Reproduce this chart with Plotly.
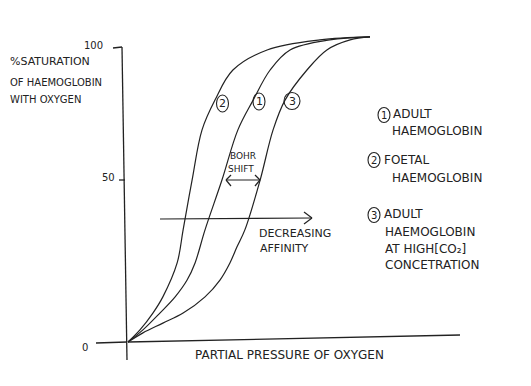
import plotly.graph_objects as go

# ---- data (x = partial pressure of O2 in arbitrary units, y = % saturation)
foetal_x = [0, 3.6, 7.5, 10.5, 14.8, 16.6, 19.3, 22.3, 26.2, 31.6, 41.9, 57.8, 72.9]
foetal_y = [0, 4.1, 9.8, 15.3, 26.8, 38.0, 54.9, 71.9, 82.0, 92.2, 99.0, 102.4, 103.4]

adult_x = [0, 4.5, 9.6, 14.2, 17.8, 20.2, 23.2, 28.3, 33.1, 37.7, 42.8, 48.8, 60.8, 72.9]
adult_y = [0, 4.1, 9.8, 15.3, 21.0, 26.8, 38.0, 54.9, 71.9, 82.0, 92.2, 99.0, 102.4, 103.4]

co2_x = [0, 4.5, 10.5, 16.6, 23.2, 27.7, 30.7, 32.8, 35.2, 39.8, 43.7, 47.3, 53.9, 59.9, 66.9, 72.9]
co2_y = [0, 3.1, 6.4, 9.8, 15.3, 21.0, 26.8, 32.2, 38.0, 54.9, 71.9, 82.0, 92.2, 99.0, 102.4, 103.4]

y_tick_labels = ["0", "50", "100"]

INK = "#222222"
FONT = "DejaVu Sans"
PAGE_W, PAGE_H = 531, 386
M = 8  # default body margin of the html page
W, H = PAGE_W - 2 * M, PAGE_H - 2 * M


def X(px):  # page pixel -> data x
    return (px - 128) / 3.32


def Y(py):  # page pixel -> data y
    return (342 - py) / 2.95


fig = go.Figure()
for xs, ys in [(foetal_x, foetal_y), (adult_x, adult_y), (co2_x, co2_y)]:
    fig.add_trace(go.Scatter(x=xs, y=ys, mode="lines",
                             line=dict(color=INK, width=1.2, shape="spline", smoothing=1.0),
                             hoverinfo="skip", showlegend=False))

shapes = []


def seg(x0, y0, x1, y1, w=1.3):
    shapes.append(dict(type="line", xref="x", yref="y", x0=X(x0), y0=Y(y0), x1=X(x1), y1=Y(y1),
                       line=dict(color=INK, width=w)))


# axes (hand drawn)
seg(122, 47, 127, 360)
seg(128, 342, 460, 335)
# ticks
seg(113, 48, 122, 47)
seg(119, 180, 125, 180)
seg(96, 343, 127, 342)

# Bohr shift double arrow
seg(226, 180, 260, 180, 1.2)
seg(226, 180, 231, 175, 1.2); seg(226, 180, 231, 186, 1.2)
seg(260, 180, 255, 175, 1.2); seg(260, 180, 255, 186, 1.2)

# decreasing affinity arrow
seg(160, 219, 312, 218, 1.2)
seg(312, 218, 304, 212, 1.2); seg(312, 218, 304, 224, 1.2)


def circ(cx, cy, w, h):
    shapes.append(dict(type="circle", xref="x", yref="y", x0=X(cx - w / 2), x1=X(cx + w / 2),
                       y0=Y(cy + h / 2), y1=Y(cy - h / 2), line=dict(color=INK, width=1.1)))


ann = []


def txt(s, px, py, size=12, anchor="left"):
    ann.append(dict(x=X(px), y=Y(py), xref="x", yref="y", text=s, showarrow=False, xanchor=anchor,
                    yanchor="middle", font=dict(family=FONT, size=size, color=INK)))


# curve labels
for n, cx, cy, w in [("2", 222.5, 103.5, 12), ("1", 259, 101.5, 12), ("3", 292, 101, 16)]:
    circ(cx, cy, w, 17)
    txt(n, cx, cy, 11, "center")

# legend
circ(384, 115, 12, 15); txt("1", 384, 115, 10, "center")
txt("ADULT", 391, 114); txt("HAEMOGLOBIN", 390, 131)
circ(374, 160, 12, 15); txt("2", 374, 160, 10, "center")
txt("FOETAL", 382, 160); txt("HAEMOGLOBIN", 390, 178)
circ(374, 215, 12, 15); txt("3", 374, 215, 10, "center")
txt("ADULT", 382, 214); txt("HAEMOGLOBIN", 383, 232)
txt("AT HIGH[CO₂]", 383, 249); txt("CONCETRATION", 383, 265)

# y axis title & tick labels
txt("%SATURATION", 8, 61, 11); txt("OF HAEMOGLOBIN", 8, 82, 10); txt("WITH OXYGEN", 8, 99, 10)
txt(y_tick_labels[2], 93, 45, 10, "center")
txt(y_tick_labels[1], 108, 177, 10, "center")
txt(y_tick_labels[0], 85, 347, 10, "center")

# x axis title
txt("PARTIAL PRESSURE OF OXYGEN", 289, 355, 12, "center")

# Bohr shift text
txt("BOHR", 243, 156, 9, "center"); txt("SHIFT", 241, 169, 9, "center")

txt("DECREASING", 257, 233, 11); txt("AFFINITY", 258, 248, 11)

fig.update_layout(
    width=W, height=H, margin=dict(l=0, r=0, t=0, b=0),
    paper_bgcolor="white", plot_bgcolor="white",
    xaxis=dict(range=[X(M), X(M + W)], visible=False, fixedrange=True),
    yaxis=dict(range=[Y(M + H), Y(M)], visible=False, fixedrange=True),
    shapes=shapes, annotations=ann, showlegend=False,
)

fig.write_html("out.html")
